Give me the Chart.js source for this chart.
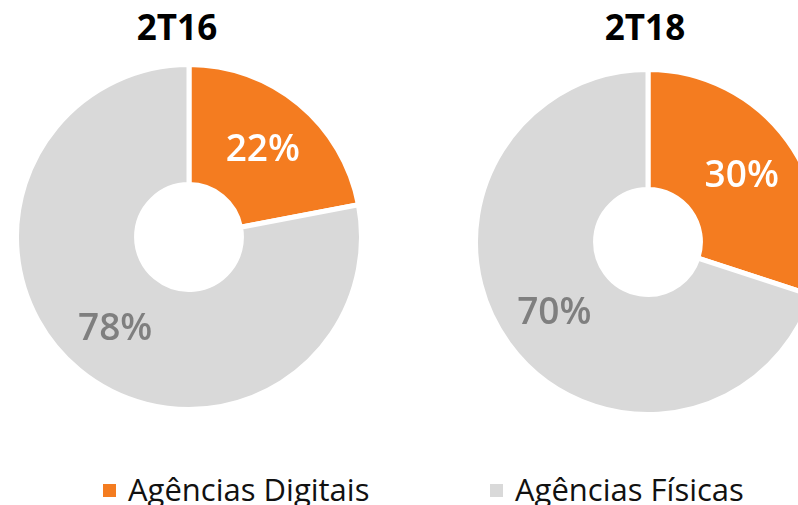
<!DOCTYPE html>
<html>
<head>
<meta charset="utf-8">
<script src="https://cdn.jsdelivr.net/npm/chart.js"></script>
<style>
  html, body { margin: 0; padding: 0; background: #fff; }
  body { width: 798px; height: 505px; position: relative; overflow: hidden; font-family: "Open Sans", sans-serif; }
  .ttl { position: absolute; top: 4px; font-weight: 700; font-size: 35px; color: #000; transform: translateX(-50%); line-height: 46px; }
  .box { position: absolute; width: 350px; height: 350px; }
  .leg { position: absolute; top: 469px; font-size: 31px; color: #111; line-height: 40px; white-space: nowrap; }
  .leg i { display: inline-block; width: 13px; height: 13px; margin-right: 12px; vertical-align: 4px; }
</style>
</head>
<body>
<div class="ttl" style="left:177px">2T16</div>
<div class="ttl" style="left:645px">2T18</div>
<div class="box" style="left:13.5px; top:62px"><canvas id="c1"></canvas></div>
<div class="box" style="left:473px; top:66.5px"><canvas id="c2"></canvas></div>
<div class="leg" style="left:103px"><i style="background:#F47C20"></i>Agências Digitais</div>
<div class="leg" style="left:490px"><i style="background:#D9D9D9"></i>Agências Físicas</div>
<script>
const categories = ["Agências Digitais", "Agências Físicas"];
const values_2T16 = [22, 78];
const values_2T18 = [30, 70];
const colors = ["#F47C20", "#D9D9D9"];
const labelColors = ["#FFFFFF", "#7F7F7F"];

const pctLabels = {
    id: "pctLabels",
    afterDatasetsDraw(chart) {
        const ctx = chart.ctx;
        const ds = chart.data.datasets[0];
        ctx.save();
        ctx.font = "600 37px 'Open Sans'";
        ctx.textAlign = "center";
        ctx.textBaseline = "middle";
        chart.getDatasetMeta(0).data.forEach((arc, i) => {
            const p = arc.tooltipPosition();
            // push a little outwards from the centre, like the original
            const x = arc.x + (p.x - arc.x) * 1.03;
            const y = arc.y + (p.y - arc.y) * 1.03 + 3;
            ctx.fillStyle = labelColors[i];
            ctx.fillText(ds.data[i] + "%", x, y);
        });
        ctx.restore();
    }
};

const makePie = (id, values) => new Chart(document.getElementById(id), {
    type: "doughnut",
    data: {
        labels: categories,
        datasets: [{
            data: values,
            backgroundColor: colors,
            borderColor: "#FFFFFF",
            borderWidth: 5,
        }]
    },
    options: {
        responsive: true,
        maintainAspectRatio: false,
        animation: false,
        cutout: "30.4%",
        layout: { padding: 0 },
        plugins: {
            legend: { display: false },
            tooltip: { enabled: false },
        }
    },
    plugins: [pctLabels]
});

makePie("c1", values_2T16);
makePie("c2", values_2T18);
</script>
</body>
</html>
